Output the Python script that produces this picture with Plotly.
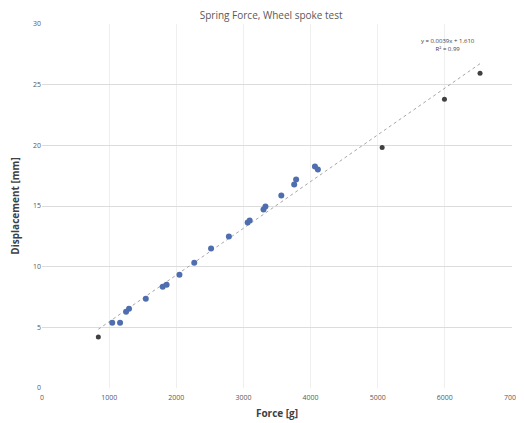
import numpy as np
import plotly.graph_objects as go

# Measured data (blue)
force_blue = [1046, 1163, 1252, 1296, 1546, 1797, 1856, 2047, 2268, 2518,
              2783, 3063, 3093, 3299, 3328, 3564, 3756, 3785, 4065, 4109]
disp_blue = [5.37, 5.37, 6.28, 6.53, 7.36, 8.35, 8.5, 9.34, 10.33, 11.49,
             12.48, 13.64, 13.8, 14.71, 14.96, 15.87, 16.78, 17.19, 18.26, 18.0]

# Extra points (dark gray)
force_gray = [839, 5066, 5994, 6524]
disp_gray = [4.21, 19.83, 23.8, 25.95]

x_ticks = [0, 1000, 2000, 3000, 4000, 5000, 6000, 7000]
y_ticks = [0, 5, 10, 15, 20, 25, 30]

title = "Spring Force, Wheel spoke test"
x_title = "Force [g]"
y_title = "Displacement [mm]"

all_x = np.array(force_blue + force_gray, dtype=float)
all_y = np.array(disp_blue + disp_gray, dtype=float)
slope, intercept = np.polyfit(all_x, all_y, 1)
pred = slope * all_x + intercept
r2 = 1 - np.sum((all_y - pred) ** 2) / np.sum((all_y - all_y.mean()) ** 2)
tx = np.array([all_x.min(), all_x.max()])
ty = slope * tx + intercept

font = "Open Sans, Liberation Sans, sans-serif"

fig = go.Figure()
fig.add_trace(go.Scatter(x=tx, y=ty, mode="lines",
                         line=dict(color="#a6a6a6", width=1, dash="dot"),
                         showlegend=False, hoverinfo="skip"))
fig.add_trace(go.Scatter(x=force_blue, y=disp_blue, mode="markers",
                         marker=dict(color="#4f6eaf", size=6),
                         showlegend=False))
fig.add_trace(go.Scatter(x=force_gray, y=disp_gray, mode="markers",
                         marker=dict(color="#404040", size=5),
                         showlegend=False))

fig.add_annotation(x=6050, y=28.3, xref="x", yref="y",
                   text=f"y = {slope:.4f}x + {intercept:.3f}<br>R² = {r2:.2f}",
                   showarrow=False, font=dict(family=font, size=6, color="#404040"),
                   align="center")

# page body has an 8px default margin; size/margins compensate for it
fig.update_layout(
    width=516, height=415,
    margin=dict(l=34, r=12, t=16, b=35),
    paper_bgcolor="white", plot_bgcolor="white",
    title=dict(text=title, x=0.51, xanchor="center", y=0.99, yanchor="top",
               font=dict(family=font, size=10, color="#595959")),
    xaxis=dict(range=[0, 7000], tickvals=x_ticks, showgrid=True,
               gridcolor="#efefef", gridwidth=1, zeroline=False,
               showline=False, ticks="", automargin=False,
               ticklabelstandoff=4, ticklabeloverflow="allow",
               tickfont=dict(family=font, size=7, color="#595959"),
               title=dict(text=f"<b>{x_title}</b>", standoff=8,
                          font=dict(family=font, size=10, color="#404040"))),
    yaxis=dict(range=[0, 30], tickvals=y_ticks, showgrid=True,
               gridcolor="#dcdcdc", gridwidth=1, zeroline=False,
               showline=False, ticks="", automargin=False,
               tickfont=dict(family=font, size=7, color="#595959"),
               title=dict(text=f"<b>{y_title}</b>", standoff=12,
                          font=dict(family=font, size=10, color="#404040"))),
)

fig.write_html("out.html")
